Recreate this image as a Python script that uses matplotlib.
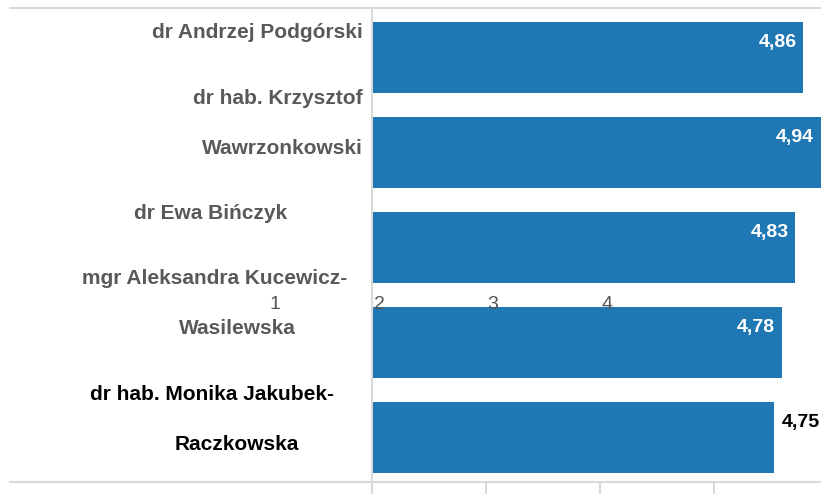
import textwrap
import matplotlib
matplotlib.use('Agg')
import matplotlib.pyplot as plt
import matplotlib.transforms as mtransforms

# Dane
names = ['dr Andrzej Podgórski', 'dr hab. Krzysztof Wawrzonkowski', 'dr Ewa Bińczyk',
         'mgr Aleksandra Kucewicz-Wasilewska', 'dr hab. Monika Jakubek-Raczkowska']
scores = [4.86, 4.94, 4.83, 4.78, 4.75]
score_labels = ['4,86', '4,94', '4,83', '4,78', '4,75']
axis_ticks = [1, 2, 3, 4]
highlighted = 'dr hab. Monika Jakubek-Raczkowska'

W, H = 821, 494
fig = plt.figure(figsize=(W / 100, H / 100), dpi=100)

grid_col = '#d9d9d9'
bar_col = '#1f77b4'
label_col = '#595959'

# ramka tła (linie górna i dolna)
frame = fig.add_axes([10 / W, 12 / H, 811 / W, 474 / H])
frame.set_xticks([])
frame.set_yticks([])
for s in ['left', 'right']:
    frame.spines[s].set_visible(False)
for s in ['top', 'bottom']:
    frame.spines[s].set_color(grid_col)
    frame.spines[s].set_linewidth(1.5)
frame.patch.set_alpha(0)

# wykres słupkowy
ax = fig.add_axes([372 / W, 12 / H, 449 / W, 474 / H])
ax.patch.set_alpha(0)
y = list(range(len(names)))
ax.barh(y, scores, height=0.75, color=bar_col)
ax.set_xlim(3.25, 3.25 + 449 / 268)
ax.set_ylim(4.47, -0.52)
ax.set_xticks([])
ax.set_yticks([])
for s in ['top', 'right', 'bottom']:
    ax.spines[s].set_visible(False)
ax.spines['left'].set_color(grid_col)
ax.spines['left'].set_linewidth(1.5)

for i, (v, lab) in enumerate(zip(scores, score_labels)):
    if names[i] == highlighted:
        ax.annotate(lab, xy=(v, i), xytext=(8, 15), textcoords='offset pixels',
                    ha='left', va='center', color='black', fontsize=14,
                    fontweight='bold', family='Liberation Sans', annotation_clip=False)
    else:
        ax.annotate(lab, xy=(min(v, ax.get_xlim()[1]), i), xytext=(-7, 15),
                    textcoords='offset pixels', ha='right', va='center',
                    color='white', fontsize=14, fontweight='bold',
                    family='Liberation Sans')

# oś z podziałką 1-4
ax2 = ax.twiny()
ax2.set_xlim(1, 4.94)
ax2.set_xticks(axis_ticks)
ax2.set_xticklabels([str(t) for t in axis_ticks])
ax2.xaxis.set_ticks_position('bottom')
ax2.xaxis.set_label_position('bottom')
ax2.tick_params(axis='x', length=12, width=1.5, color=grid_col, pad=0,
                labelsize=14, labelcolor='#555555')
for s in ax2.spines.values():
    s.set_visible(False)
for k, lab in enumerate(ax2.get_xticklabels()):
    lab.set_family('Liberation Sans')
    dx = -0.97 if k == 0 else -1.07
    off = mtransforms.ScaledTranslation(dx, 2.03, fig.dpi_scale_trans)
    lab.set_transform(lab.get_transform() + off)

# etykiety nazwisk
label_y = [33, 98, 213, 278, 394]
label_x = [[(363, 'right')], [(363, 'right'), (363, 'right')], [(211, 'center')],
           [(215, 'center'), (237, 'center')], [(212, 'center'), (237, 'center')]]
for i, name in enumerate(names):
    lines = textwrap.wrap(name, 24)
    col = 'black' if name == highlighted else label_col
    for j, line in enumerate(lines):
        x, ha = label_x[i][j]
        fig.text(x / W, 1 - (label_y[i] + 50 * j) / H, line, ha=ha, va='center',
                 fontsize=15, fontweight='bold', color=col, family='Liberation Sans')

fig.savefig('out.png', dpi=100)
